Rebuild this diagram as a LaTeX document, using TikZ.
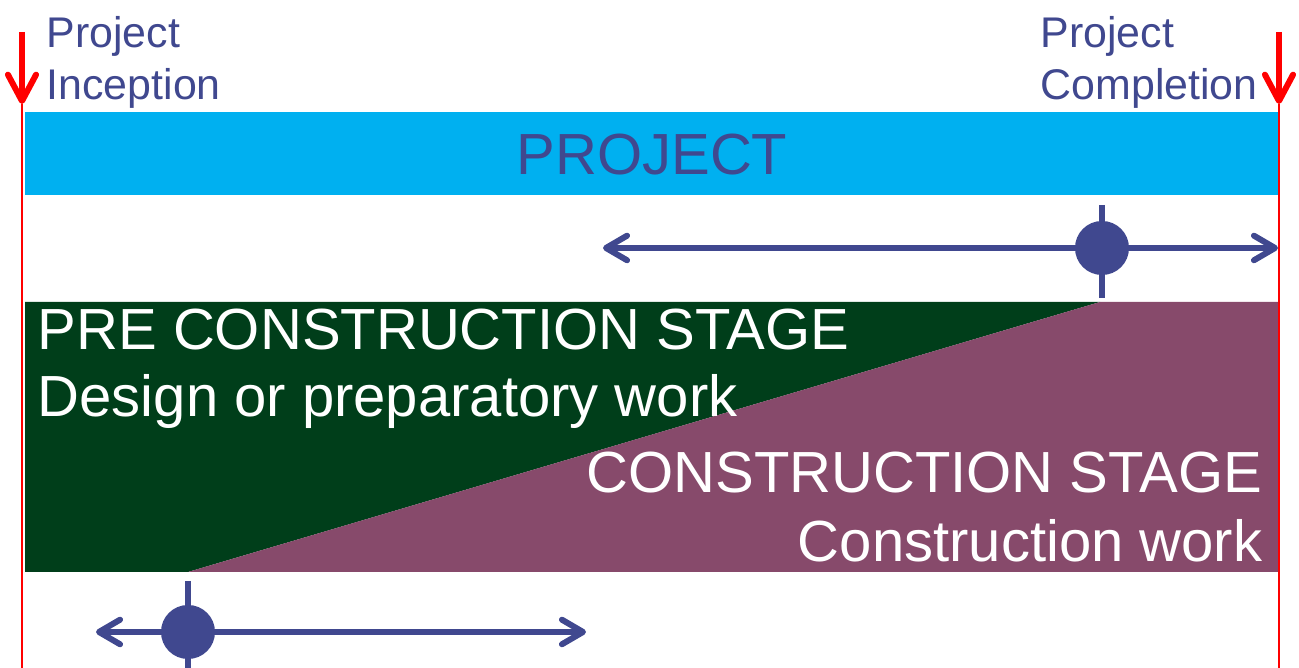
\documentclass[tikz,border=0pt]{standalone}
\usepackage{fontspec}
\setmainfont{Liberation Sans}
\usepackage{tikz}
\usetikzlibrary{arrows.meta}
\definecolor{projblue}{RGB}{0,176,240}
\definecolor{ink}{RGB}{64,72,143}
\definecolor{pregreen}{RGB}{0,62,26}
\definecolor{conpurple}{RGB}{135,74,107}
\definecolor{redline}{RGB}{255,0,0}

\begin{document}
\begin{tikzpicture}[x=0.01cm,y=-0.01cm,every node/.style={inner sep=0pt},
    small/.style={font=\fontsize{12.2}{14.6}\selectfont,text=ink},
    big/.style={font=\fontsize{16.5}{19.8}\selectfont,text=white},
    span/.style={draw=ink,line width=1.7pt,
        {Straight Barb[length=6pt,width=7pt,round]}-{Straight Barb[length=6pt,width=7pt,round]}},
    tick/.style={draw=ink,line width=1.7pt},
    dot/.style={circle,fill=ink,minimum size=0.54cm},
    limit/.style={draw=redline,line width=1.7pt,-{Straight Barb[length=7.5pt,width=8pt,round]}}]
    \useasboundingbox (0,0) rectangle (1299,668);
    % bars
    \fill[projblue] (25,112) rectangle (1278,195);
    \fill[pregreen] (25,302) -- (1100,302) -- (188,572) -- (25,572) -- cycle;
    \fill[conpurple] (188,572) -- (1100,302) -- (1278,302) -- (1278,572) -- cycle;
    % limits
    \coordinate (la) at (22,32);
    \coordinate (lb) at (22,104);
    \coordinate (lc) at (22,668);
    \coordinate (ra) at (1279,32);
    \coordinate (rb) at (1279,104);
    \coordinate (rc) at (1279,668);
    \draw[draw=redline,line width=0.6pt] (lb) -- (lc);
    \draw[draw=redline,line width=0.6pt] (rb) -- (rc);
    \draw[limit] (la) -- (lb);
    \draw[limit] (ra) -- (rb);
    % texts
    \node[small,anchor=base west] (incep1) at (46,48) {Project};
    \node[small,anchor=base west] (incep2) at (46,100) {Inception};
    \node[small,anchor=base west] (compl1) at (1040,48) {Project};
    \node[small,anchor=base west] (compl2) at (1040,100) {Completion};
    \node[big,text=ink,anchor=base] (proj) at (652,175) {PROJECT};
    \node[big,anchor=base west] (pre1) at (37,350) {PRE CONSTRUCTION STAGE};
    \node[big,anchor=base west] (pre2) at (37,417) {Design or preparatory work};
    \node[big,anchor=base east] (con1) at (1263,493) {CONSTRUCTION STAGE};
    \node[big,anchor=base east] (con2) at (1263,562) {Construction work};
    % upper span
    \coordinate (ua) at (603,248);
    \coordinate (ub) at (1278,248);
    \coordinate (uc) at (1102,205);
    \coordinate (ud) at (1102,298);
    \draw[tick] (uc) -- (ud);
    \draw[span] (ua) -- (ub);
    \node[dot] (udot) at (1102,248) {};
    % lower span
    \coordinate (da) at (96,632);
    \coordinate (db) at (586,632);
    \coordinate (dc) at (188,581);
    \coordinate (dd) at (188,668);
    \draw[tick] (dc) -- (dd);
    \draw[span] (da) -- (db);
    \node[dot] (ddot) at (188,632) {};
\end{tikzpicture}
\end{document}
